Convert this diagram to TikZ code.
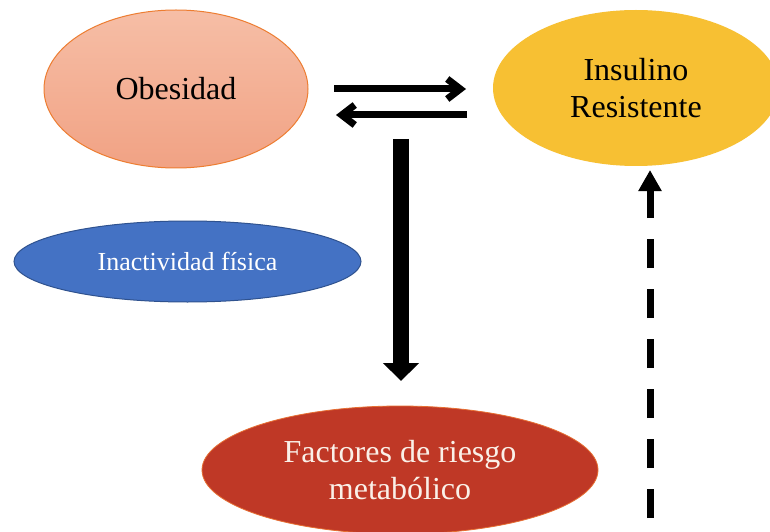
\documentclass[tikz,border=0pt]{standalone}
\usepackage{fontspec}
\setmainfont{Liberation Serif}
\usetikzlibrary{arrows.meta,shapes.geometric}
\definecolor{obesTop}{RGB}{246,190,166}
\definecolor{obesBot}{RGB}{241,162,132}
\definecolor{obesLine}{RGB}{237,125,49}
\definecolor{insFill}{RGB}{247,192,51}
\definecolor{inaFill}{RGB}{68,114,196}
\definecolor{inaLine}{RGB}{47,82,143}
\definecolor{facFill}{RGB}{191,56,38}
\definecolor{facLine}{RGB}{230,110,50}
\definecolor{facText}{RGB}{250,240,232}
\tikzset{
  blob/.style={ellipse, inner sep=0pt, align=center},
  bigtxt/.style={font=\fontsize{32}{37}\selectfont},
  thinarrow/.style={line width=7pt, -{Straight Barb[length=13pt,width=20pt]}},
  fatarrow/.style={line width=16pt, -{Triangle[length=18pt,width=35pt]}},
  dasharrow/.style={line width=7pt, dash pattern=on 29pt off 21pt, -{Triangle[length=21pt,width=22pt]}}
}
\begin{document}
\begin{tikzpicture}[x=1pt,y=1pt]
\clip (0,0) rectangle (770,531);
\fill[white] (0,0) rectangle (770,531);
\node[blob, bigtxt, minimum width=264pt, minimum height=158pt, top color=obesTop, bottom color=obesBot, draw=obesLine, line width=1pt] (obes) at (176,442) {Obesidad};
\node[blob, bigtxt, minimum width=286pt, minimum height=156pt, fill=insFill] (insul) at (636,443) {Insulino\\Resistente};
\node[blob, font=\fontsize{26}{30}\selectfont, text=white, minimum width=347pt, minimum height=81pt, fill=inaFill, draw=inaLine, line width=1pt] (inact) at (187.5,269.5) {Inactividad física};
\node[blob, bigtxt, text=facText, minimum width=396pt, minimum height=128pt, fill=facFill, draw=facLine, line width=0.8pt] (fact) at (400,61) {Factores de riesgo\\metabólico};
\coordinate (r1) at (334,442);
\coordinate (r2) at (466,442);
\coordinate (l1) at (467,416);
\coordinate (l2) at (336,416);
\coordinate (v1) at (401,392);
\coordinate (v2) at (401,150);
\coordinate (d1) at (650,-37);
\coordinate (d2) at (650,361);
\draw[thinarrow] (r1) -- (r2);
\draw[thinarrow] (l1) -- (l2);
\draw[fatarrow] (v1) -- (v2);
\draw[dasharrow] (d1) -- (d2);
\end{tikzpicture}
\end{document}
